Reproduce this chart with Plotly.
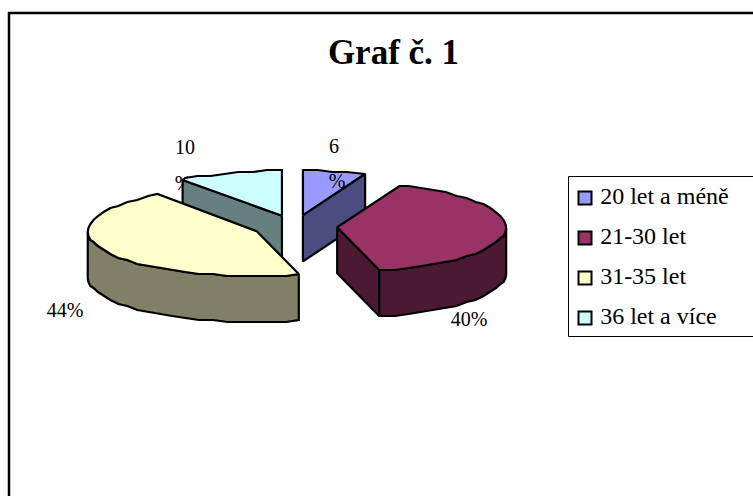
import math
import plotly.graph_objects as go

# Age groups and their shares in percent
categories = ["20 let a méně", "21-30 let", "31-35 let", "36 let a více"]
shares = [6, 40, 44, 10]
top_colors = ["#9999FF", "#993366", "#FFFFCC", "#CCFFFF"]
side_colors = ["#4C4C80", "#4C1933", "#808066", "#668080"]
title_text = "Graf č. 1"

FONT = "Liberation Serif"
CX, CY = 295, 226.5     # pie centre in page pixels
RX, RY = 169, 45        # projected radii of the tilted disc
DEPTH = 46              # extruded height
EXPLODE = 0.25
STEP = 5                # facet size of the rim, degrees
SNAP = 2                # rim rows snap to this pixel grid, giving the coarse stepped outline


def rim(ax, ay, deg, dz=0):
    a = math.radians(deg)
    y = ay - RY * math.cos(a)
    return ax + RX * math.sin(a), SNAP * round(y / SNAP) + dz


def arc(ax, ay, start, end, dz=0):
    # Facets sit on whole multiples of STEP so faces sharing a rim line up exactly
    inner = [d for d in range(0, 361, STEP) if start < d < end]
    return [rim(ax, ay, d, dz) for d in [start] + inner + [end]]


# Wedge start/end angles and exploded apexes derived from the shares
wedges = []
cum = 0
for s in shares:
    start, end = cum * 3.6, (cum + s) * 3.6
    mid = math.radians((start + end) / 2)
    wedges.append({
        "start": start,
        "end": end,
        "ax": CX + EXPLODE * RX * math.sin(mid),
        "ay": CY - EXPLODE * RY * math.cos(mid),
    })
    cum += s

fig = go.Figure()


def poly(points, color):
    xs = [p[0] for p in points] + [points[0][0]]
    ys = [p[1] for p in points] + [points[0][1]]
    fig.add_trace(go.Scatter(
        x=xs, y=ys, mode="lines", fill="toself", fillcolor=color,
        line=dict(color="black", width=2.2), hoverinfo="skip", showlegend=False,
    ))


def top(i):
    w = wedges[i]
    poly([(w["ax"], w["ay"])] + arc(w["ax"], w["ay"], w["start"], w["end"]), top_colors[i])


def radial_side(i, deg):
    w = wedges[i]
    ax, ay = w["ax"], w["ay"]
    ox, oy = rim(ax, ay, deg)
    poly([(ax, ay), (ox, oy), (ox, oy + DEPTH), (ax, ay + DEPTH)], side_colors[i])


def outer_side(i, start, end):
    w = wedges[i]
    upper = arc(w["ax"], w["ay"], start, end)
    lower = arc(w["ax"], w["ay"], start, end, DEPTH)
    poly(upper + lower[::-1], side_colors[i])


def label(x, y, text, size=20):
    fig.add_trace(go.Scatter(
        x=[x], y=[y], mode="text", text=[text], textposition="middle center",
        textfont=dict(family=FONT, size=size, color="black"),
        hoverinfo="skip", showlegend=False,
    ))


# Painted back to front; wrapped percent signs sit under the faces that cover them
label(183, 185, "%")
radial_side(3, wedges[3]["start"])
top(3)
top(0)
label(337, 183, "%")
radial_side(0, wedges[0]["end"])
radial_side(1, wedges[1]["end"])
outer_side(1, 90, wedges[1]["end"])
top(1)
outer_side(2, wedges[2]["start"], 270)
top(2)

label(185, 149, str(shares[3]))
label(334, 148, str(shares[0]))
label(65, 312, f"{shares[2]}%")
label(469, 321, f"{shares[1]}%")
label(393.5, 55, f"<b>{title_text}</b>", size=35)

# Legend drawn as swatches and labels inside a box
LEG_X, LEG_Y, LEG_GAP = 585, 198, 40
for i, name in enumerate(categories):
    fig.add_trace(go.Scatter(
        x=[LEG_X], y=[LEG_Y + i * LEG_GAP], mode="markers+text", text=[" " + name],
        textposition="middle right",
        textfont=dict(family=FONT, size=24, color="black"),
        marker=dict(symbol="square", size=13, color=top_colors[i], line=dict(color="black", width=2)),
        cliponaxis=False, hoverinfo="skip", showlegend=False,
    ))

frame = dict(type="path", path="M 9 496 L 9 13 L 753 13", line=dict(color="black", width=2.5))
legend_box = dict(type="path", path="M 753 176.5 L 568.5 176.5 L 568.5 336.5 L 753 336.5", line=dict(color="black", width=1))

fig.update_layout(
    width=753, height=496, margin=dict(l=0, r=0, t=0, b=0),
    paper_bgcolor="white", plot_bgcolor="white",
    xaxis=dict(range=[0, 753], visible=False, fixedrange=True),
    yaxis=dict(range=[496, 0], visible=False, fixedrange=True),
    shapes=[frame, legend_box],
)

fig.write_html("out.html")
